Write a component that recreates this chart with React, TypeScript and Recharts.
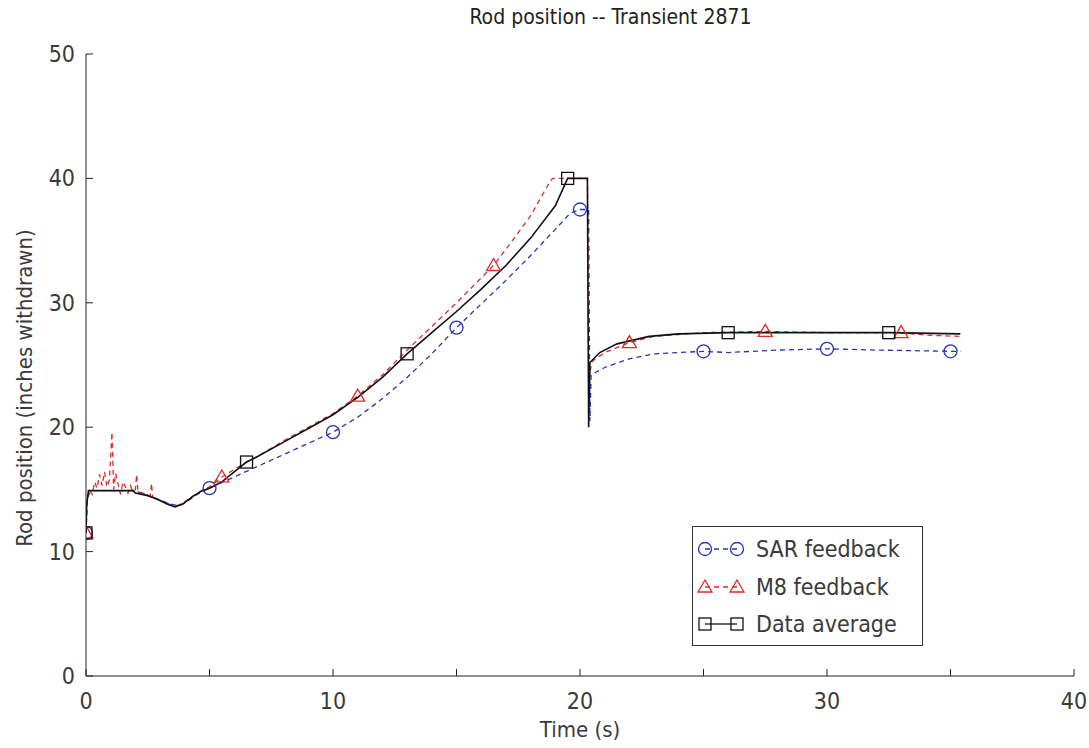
import React from 'react';
import { LineChart, Line, XAxis, YAxis, Legend } from 'recharts';

// time (s) / rod position (inches withdrawn)
const sarTimes = [0, 0.05, 0.2, 1.9, 2.3, 2.8, 3.3, 3.7, 4.0, 4.5, 5, 6, 7, 8, 9, 10, 11, 12, 13, 14, 15, 16, 17, 18, 19, 19.6, 20, 20.35, 20.4, 20.45, 21, 22, 23, 24, 25, 26, 28, 30, 32, 35, 35.4];
const sarValues = [11.5, 14.3, 14.9, 14.9, 14.7, 14.3, 13.9, 13.7, 13.9, 14.6, 15.1, 16.0, 16.9, 17.8, 18.7, 19.6, 20.8, 22.3, 24.0, 25.9, 28.0, 29.9, 31.8, 33.8, 35.9, 37.2, 37.5, 37.5, 20.5, 24.2, 24.8, 25.5, 25.9, 26.0, 26.1, 26.0, 26.2, 26.3, 26.2, 26.1, 26.1];
const sarMarkers = [0, 5, 10, 15, 20, 25, 30, 35];

const m8Times = [0, 0.05, 0.15, 0.25, 0.35, 0.45, 0.55, 0.65, 0.75, 0.85, 0.95, 1.05, 1.12, 1.2, 1.3, 1.4, 1.5, 1.6, 1.7, 1.8, 1.9, 2.0, 2.05, 2.1, 2.3, 2.6, 2.65, 2.7, 3.0, 3.4, 3.7, 4.0, 4.5, 5, 5.5, 6, 6.5, 7, 8, 9, 10, 11, 12, 13, 14, 15, 16, 16.5, 17, 18, 18.8, 18.9, 20.3, 20.35, 20.5, 21, 22, 23, 25, 27.5, 30, 33, 34, 35.4];
const m8Values = [11.5, 14.2, 15.0, 14.6, 15.6, 15.1, 16.2, 15.3, 16.4, 15.2, 15.8, 19.6, 15.0, 16.3, 15.4, 14.6, 15.6, 15.2, 14.7, 15.3, 14.8, 15.0, 16.2, 14.9, 14.7, 14.4, 15.5, 14.4, 14.1, 13.8, 13.7, 14.0, 14.7, 15.2, 16.0, 16.6, 17.2, 17.7, 18.9, 20.0, 21.1, 22.5, 24.2, 26.2, 28.1, 30.0, 32.0, 33.0, 34.3, 37.0, 39.8, 40.0, 40.0, 24.0, 25.3, 26.0, 26.8, 27.3, 27.6, 27.7, 27.6, 27.6, 27.4, 27.3];
const m8Markers = [0, 5.5, 11, 16.5, 22, 27.5, 33];

const avgTimes = [0, 0.03, 0.1, 1.9, 2.0, 2.5, 3.0, 3.3, 3.6, 3.9, 4.3, 4.7, 5, 5.5, 6, 6.5, 7, 8, 9, 10, 11, 12, 13, 14, 15, 16, 17, 18, 19, 19.5, 20.3, 20.35, 20.4, 20.8, 21.5, 22.8, 24, 26, 30, 32.5, 35.4];
const avgValues = [11.5, 13.8, 14.9, 14.9, 14.7, 14.5, 14.1, 13.8, 13.6, 13.8, 14.4, 14.9, 15.1, 15.6, 16.4, 17.2, 17.7, 18.8, 19.9, 21.0, 22.4, 24.0, 25.9, 27.6, 29.3, 31.1, 33.0, 35.2, 37.8, 40.0, 40.0, 20.0, 25.2, 26.0, 26.7, 27.3, 27.5, 27.6, 27.6, 27.6, 27.5];
const avgMarkers = [0, 6.5, 13, 19.5, 26, 32.5];

const xTicks = [0, 5, 10, 15, 20, 25, 30, 35, 40];
const yTicks = [0, 10, 20, 30, 40, 50];

const toRows = (ts: number[], vs: number[]) => ts.map((t, i) => ({ t, v: vs[i] }));
const sarData = toRows(sarTimes, sarValues);
const m8Data = toRows(m8Times, m8Values);
const avgData = toRows(avgTimes, avgValues);

const FONT = '"DejaVu Sans Condensed", "Liberation Sans Narrow", "DejaVu Sans", sans-serif';
const TEXT = '#3a3a3a';
const BLUE = '#2a33b0';
const RED = '#dd2b2b';
const BLACK = '#111';

type Shape = 'circle' | 'triangle' | 'square';

const Marker = ({ x, y, shape, color }: { x: number; y: number; shape: Shape; color: string }) => {
  if (shape === 'circle') return <circle cx={x} cy={y} r={6.5} fill="none" stroke={color} strokeWidth={1.3} />;
  if (shape === 'triangle')
    return <polygon points={`${x},${y - 7} ${x + 7},${y + 5} ${x - 7},${y + 5}`} fill="none" stroke={color} strokeWidth={1.3} />;
  return <rect x={x - 6} y={y - 6} width={12} height={12} fill="none" stroke={color} strokeWidth={1.3} />;
};

const makeDot = (times: number[], shape: Shape, color: string) => (props: any) => {
  const { cx, cy, payload, index } = props;
  if (!times.includes(payload.t)) return <g key={`d-${index}`} />;
  return (
    <g key={`d-${index}`}>
      <Marker x={cx} y={cy} shape={shape} color={color} />
    </g>
  );
};

const BottomTick = (props: any) => {
  const { x, y, payload } = props;
  return (
    <g>
      <line x1={x} y1={y} x2={x} y2={y - 7} stroke="#222" />
      {payload.value % 10 === 0 && (
        <text x={x} y={y + 25} textAnchor="middle" dominantBaseline="central" fontSize={23} fill={TEXT} fontFamily={FONT} style={{ fontStretch: 'condensed' }}>
          {payload.value}
        </text>
      )}
    </g>
  );
};

const TopTick = (props: any) => {
  const { x, y } = props;
  return <line x1={x} y1={y} x2={x} y2={y + 7} stroke="#222" />;
};

const LeftTick = (props: any) => {
  const { x, y, payload } = props;
  return (
    <g>
      <line x1={x} y1={y} x2={x + 7} y2={y} stroke="#222" />
      <text x={x - 11} y={y} textAnchor="end" dominantBaseline="central" fontSize={23} fill={TEXT} fontFamily={FONT} style={{ fontStretch: 'condensed' }}>
        {payload.value}
      </text>
    </g>
  );
};

const RightTick = (props: any) => {
  const { x, y } = props;
  return <line x1={x} y1={y} x2={x - 7} y2={y} stroke="#222" />;
};

const legendItems = [
  { name: 'SAR feedback', shape: 'circle' as Shape, color: BLUE, dash: '5 4' },
  { name: 'M8 feedback', shape: 'triangle' as Shape, color: RED, dash: '5 4' },
  { name: 'Data average', shape: 'square' as Shape, color: BLACK, dash: undefined },
];

const LegendBox = () => (
  <div style={{ width: 229, height: 118, border: '1px solid #333', background: '#fff', fontFamily: FONT, fontStretch: 'condensed', position: 'relative' }}>
    {legendItems.map((item, i) => (
      <div key={item.name} style={{ position: 'absolute', left: 4, top: 8 + i * 37.5, height: 28, display: 'flex', alignItems: 'center' }}>
        <svg width={50} height={28}>
          <line x1={8} y1={14} x2={40} y2={14} stroke={item.color} strokeWidth={1.3} strokeDasharray={item.dash} />
          <Marker x={8} y={14} shape={item.shape} color={item.color} />
          <Marker x={40} y={14} shape={item.shape} color={item.color} />
        </svg>
        <span style={{ fontSize: 23, color: TEXT, marginLeft: 9 }}>{item.name}</span>
      </div>
    ))}
  </div>
);

export default function App() {
  return (
    <div style={{ position: 'absolute', left: 0, top: 0, width: 1089, height: 748, background: '#fff', fontFamily: FONT, fontStretch: 'condensed' }}>
      <div style={{ position: 'absolute', left: 0, width: 1089, top: 5, textAlign: 'center', fontSize: 21, color: '#222', paddingLeft: 66 }}>
        Rod position -- Transient 2871
      </div>
      <div
        style={{
          position: 'absolute',
          left: 24,
          top: 388,
          transform: 'translate(-50%, -50%) rotate(-90deg)',
          whiteSpace: 'nowrap',
          fontSize: 22,
          color: TEXT,
        }}
      >
        Rod position (inches withdrawn)
      </div>
      <div style={{ position: 'absolute', left: 580, top: 729, transform: 'translate(-50%, -50%)', fontSize: 22, color: TEXT }}>
        Time (s)
      </div>
      <LineChart width={1089} height={748} margin={{ top: 54, right: 15, bottom: 0, left: 26 }}>
        <XAxis
          dataKey="t"
          type="number"
          domain={[0, 40]}
          ticks={xTicks}
          height={72}
          tickSize={0}
          tickMargin={0}
          tickLine={false}
          axisLine={{ stroke: '#222' }}
          tick={<BottomTick />}
          allowDataOverflow
        />
        <XAxis
          xAxisId="top"
          orientation="top"
          type="number"
          domain={[0, 40]}
          ticks={xTicks}
          height={0}
          tickSize={0}
          tickMargin={0}
          tickLine={false}
          axisLine={{ stroke: '#222' }}
          tick={<TopTick />}
        />
        <YAxis
          type="number"
          domain={[0, 50]}
          ticks={yTicks}
          width={60}
          tickSize={0}
          tickMargin={0}
          tickLine={false}
          axisLine={{ stroke: '#222' }}
          tick={<LeftTick />}
          allowDataOverflow
        />
        <YAxis
          yAxisId="right"
          orientation="right"
          type="number"
          domain={[0, 50]}
          ticks={yTicks}
          width={0}
          tickSize={0}
          tickMargin={0}
          tickLine={false}
          axisLine={{ stroke: '#222' }}
          tick={<RightTick />}
        />
        <Legend
          layout="vertical"
          align="center"
          verticalAlign="middle"
          content={() => <LegendBox />}
          wrapperStyle={{ position: 'absolute', left: 692, top: 526, width: 231, height: 120 }}
        />
        <Line
          data={sarData}
          dataKey="v"
          name="SAR feedback"
          stroke={BLUE}
          strokeWidth={1.3}
          strokeDasharray="5 4"
          dot={makeDot(sarMarkers, 'circle', BLUE)}
          activeDot={false}
          isAnimationActive={false}
        />
        <Line
          data={m8Data}
          dataKey="v"
          name="M8 feedback"
          stroke={RED}
          strokeWidth={1.3}
          strokeDasharray="5 4"
          dot={makeDot(m8Markers, 'triangle', RED)}
          activeDot={false}
          isAnimationActive={false}
        />
        <Line
          data={avgData}
          dataKey="v"
          name="Data average"
          stroke={BLACK}
          strokeWidth={1.6}
          dot={makeDot(avgMarkers, 'square', BLACK)}
          activeDot={false}
          isAnimationActive={false}
        />
      </LineChart>
    </div>
  );
}
